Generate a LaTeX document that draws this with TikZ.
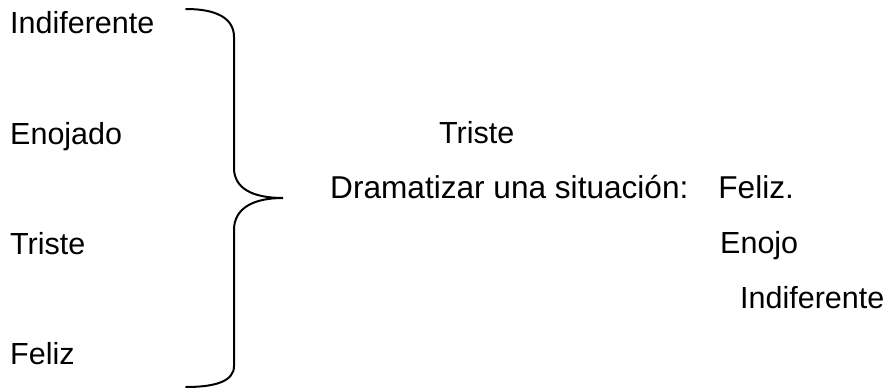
\documentclass[tikz,border=0pt]{standalone}
\usepackage{fontspec}
\setmainfont{Liberation Sans}
\begin{document}
\begin{tikzpicture}[x=1pt,y=-1pt,
  lbl/.style={anchor=base west,inner sep=0pt,font=\fontsize{30.5}{36}\selectfont},
  bracestyle/.style={line width=2pt,line cap=round}]
\useasboundingbox (0,0) rectangle (895,388);
\node[lbl] (i1) at (10,34) {Indiferente};
\node[lbl] (e1) at (10,144) {Enojado};
\node[lbl] (t1) at (10,254) {Triste};
\node[lbl] (f1) at (10,364) {Feliz};
\node[lbl] (t2) at (439,143) {Triste};
\node[lbl,font=\fontsize{31.6}{36}\selectfont] (d) at (330,198) {Dramatizar una situación:\hspace{30pt}Feliz.};
\node[lbl] (e2) at (720,253) {Enojo};
\node[lbl] (i2) at (740,308) {Indiferente};
\coordinate (tip) at (283,198);
\draw[bracestyle] (186,9) .. controls (216,9) and (234,18) .. (234,37)
  -- (234,168) .. controls (234,188) and (252,198) .. (tip)
  .. controls (252,198) and (234,209) .. (234,230)
  -- (234,366) .. controls (234,381) and (216,387) .. (186,387);
\end{tikzpicture}
\end{document}
